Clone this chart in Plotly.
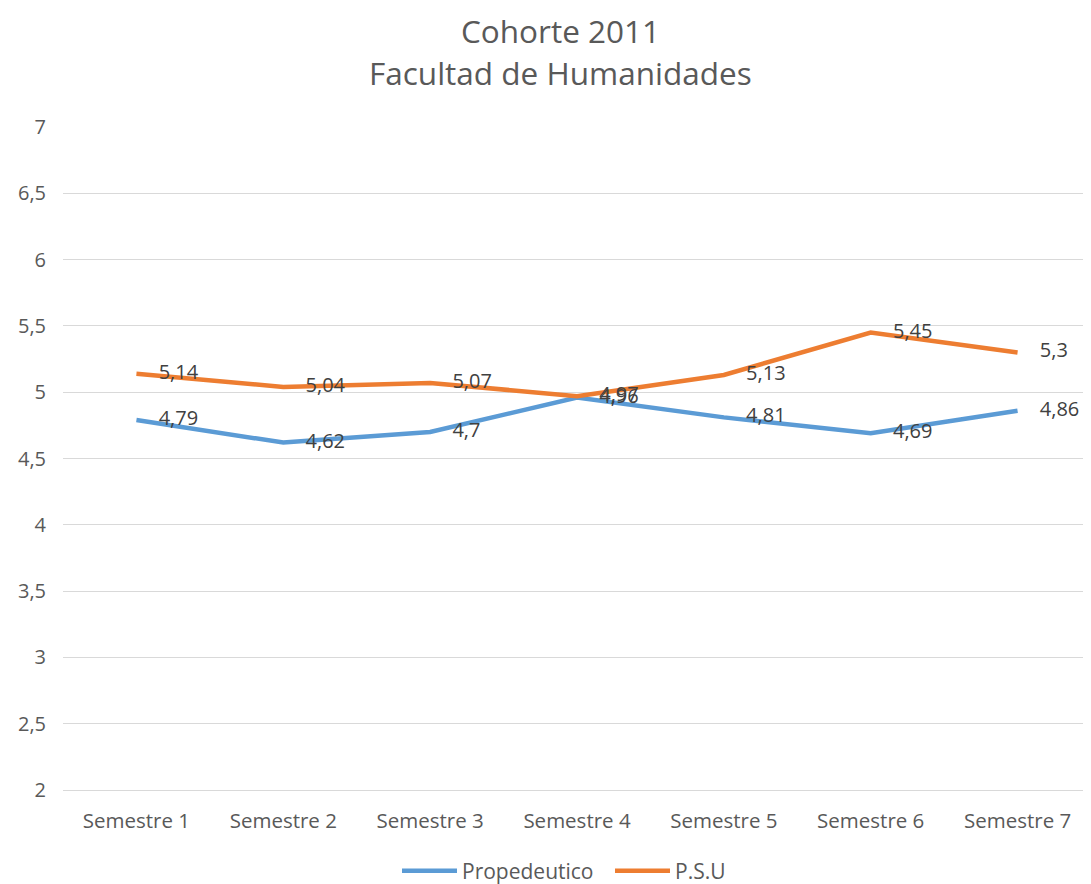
import plotly.graph_objects as go

categories = ["Semestre 1", "Semestre 2", "Semestre 3", "Semestre 4", "Semestre 5", "Semestre 6", "Semestre 7"]
propedeutico = [4.79, 4.62, 4.70, 4.96, 4.81, 4.69, 4.86]
psu = [5.14, 5.04, 5.07, 4.97, 5.13, 5.45, 5.30]
title_lines = ["Cohorte 2011", "Facultad de Humanidades"]

def fmt(v):
    s = ("%.2f" % v).rstrip("0").rstrip(".")
    return s.replace(".", ",")

FONT = "Open Sans, DejaVu Sans, sans-serif"
W, H = 1083, 876
ML, MR, MT, MB = 55, 0, 119, 94
PH = H - MT - MB
PW = W - ML - MR

series = [("Propedeutico", propedeutico, "#5B9BD5"), ("P.S.U", psu, "#ED7D31")]

fig = go.Figure()
for name, vals, color in series:
    fig.add_trace(go.Scatter(
        x=categories, y=vals, name=name, mode="lines",
        line=dict(color=color, width=4.5),
    ))
for name, vals, color in series:
    fig.add_trace(go.Scatter(
        x=categories, y=vals, name=name, mode="markers+text", showlegend=False,
        marker=dict(size=34, opacity=0, color=color),
        text=[fmt(v) for v in vals], textposition="middle right",
        textfont=dict(size=20, color="#404040", family=FONT),
        cliponaxis=False, hoverinfo="skip",
    ))

title_x = (552 - ML) / PW
annotations = []
for line, off in zip(title_lines, [97, 55]):
    annotations.append(dict(
        text=line, xref="paper", yref="paper", x=title_x, xanchor="center",
        y=1 + off / PH, yanchor="middle", showarrow=False,
        height=36, valign="middle", borderpad=0,
        font=dict(size=31.5, color="#595959", family=FONT),
    ))

fig.update_layout(
    width=W, height=H,
    separators=",.",
    paper_bgcolor="white", plot_bgcolor="white",
    font=dict(family=FONT, color="#595959", size=20),
    annotations=annotations,
    margin=dict(l=ML, r=MR, t=MT, b=MB, autoexpand=False),
    showlegend=True,
    legend=dict(orientation="h", x=(389 - ML) / PW, xanchor="left",
                yref="container", y=13 / H, yanchor="middle",
                font=dict(size=21, color="#595959"), itemwidth=55,
                entrywidth=143, entrywidthmode="pixels", tracegroupgap=0),
    xaxis=dict(showgrid=False, showline=True, linecolor="#D9D9D9", linewidth=1,
               ticks="", tickfont=dict(size=20.5, color="#595959"), ticklabelstandoff=12,
               range=[-0.5, 6.5], fixedrange=True, automargin=False),
    yaxis=dict(range=[2, 7], dtick=0.5, showgrid=True, gridcolor="#D9D9D9", gridwidth=1,
               zeroline=False, showline=False, ticks="", ticklabelstandoff=16,
               tickfont=dict(size=20, color="#595959"), automargin=False),
)

fig.write_html("out.html")
